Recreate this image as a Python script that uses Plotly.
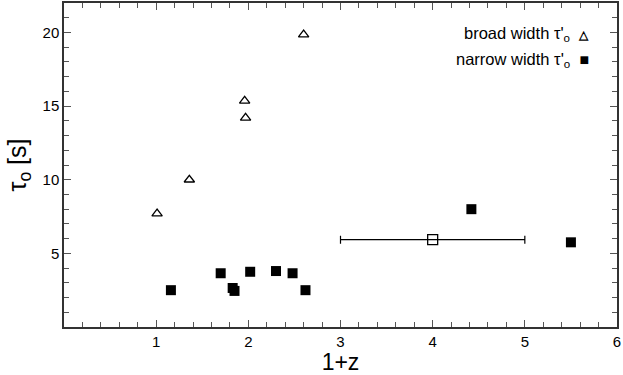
import plotly.graph_objects as go

# broad width tau'_o (open triangles)
broad_z = [1.01, 1.36, 1.96, 1.97, 2.60]
broad_tau = [7.7, 10.0, 15.35, 14.2, 19.85]

# narrow width tau'_o (filled squares)
narrow_z = [1.16, 1.70, 1.83, 1.85, 2.02, 2.30, 2.48, 2.62, 4.42, 5.50]
narrow_tau = [2.5, 3.65, 2.65, 2.45, 3.75, 3.8, 3.65, 2.5, 8.0, 5.75]

# averaged point with horizontal range
mean_z = [4.0]
mean_tau = [5.93]
mean_zerr = [1.0]

x_ticks = [1, 2, 3, 4, 5, 6]
y_ticks = [5, 10, 15, 20]

font = 'Liberation Sans, Arial, sans-serif'

fig = go.Figure()

fig.add_trace(go.Scatter(
    x=broad_z, y=broad_tau, mode='markers',
    marker=dict(symbol='triangle-up-open', size=9, color='black', line=dict(width=1.3)),
    showlegend=False
))
fig.add_trace(go.Scatter(
    x=narrow_z, y=narrow_tau, mode='markers',
    marker=dict(symbol='square', size=10, color='black'),
    showlegend=False
))
fig.add_trace(go.Scatter(
    x=mean_z, y=mean_tau, mode='markers',
    marker=dict(symbol='square-open', size=10, color='black', line=dict(width=1.3)),
    error_x=dict(type='data', array=mean_zerr, color='black', thickness=1.2, width=4),
    showlegend=False
))

axis_style = dict(
    showline=True, linecolor='#333', linewidth=1.5, mirror='ticks',
    ticks='inside', ticklen=7, tickcolor='#555', tickwidth=1,
    showgrid=False, zeroline=False,
    tickfont=dict(family=font, size=15, color='black'),
)

fig.update_xaxes(
    range=[0, 6], tickvals=x_ticks,
    minor=dict(dtick=0.2, ticks='inside', ticklen=5, tickcolor='#555'),
    title=dict(text='1+z', font=dict(family=font, size=23, color='black'), standoff=4),
    **axis_style
)
fig.update_yaxes(
    range=[0, 22], tickvals=y_ticks,
    minor=dict(dtick=1, ticks='inside', ticklen=5, tickcolor='#555'),
    title=dict(text='τ<sub>o</sub> [s]', font=dict(family=font, size=25, color='black'), standoff=9),
    **axis_style
)

# legend drawn as text, symbol on the right like the original
fig.add_annotation(xref='paper', yref='paper', x=0.953, y=0.905, xanchor='right', yanchor='middle',
                   text="broad width τ'<sub>o</sub>  <b><span style='font-size:12px'>△</span></b>",
                   showarrow=False, font=dict(family=font, size=16.5, color='black'))
fig.add_annotation(xref='paper', yref='paper', x=0.953, y=0.825, xanchor='right', yanchor='middle',
                   text="narrow width τ'<sub>o</sub>  <span style='font-size:16px'>■</span>",
                   showarrow=False, font=dict(family=font, size=16.5, color='black'))

fig.update_layout(
    width=623, height=375,
    margin=dict(l=64, r=6, t=1, b=48),
    plot_bgcolor='white', paper_bgcolor='white',
)

fig.write_html("out.html", config={'displayModeBar': False},
               post_script="document.body.style.margin='0';")
